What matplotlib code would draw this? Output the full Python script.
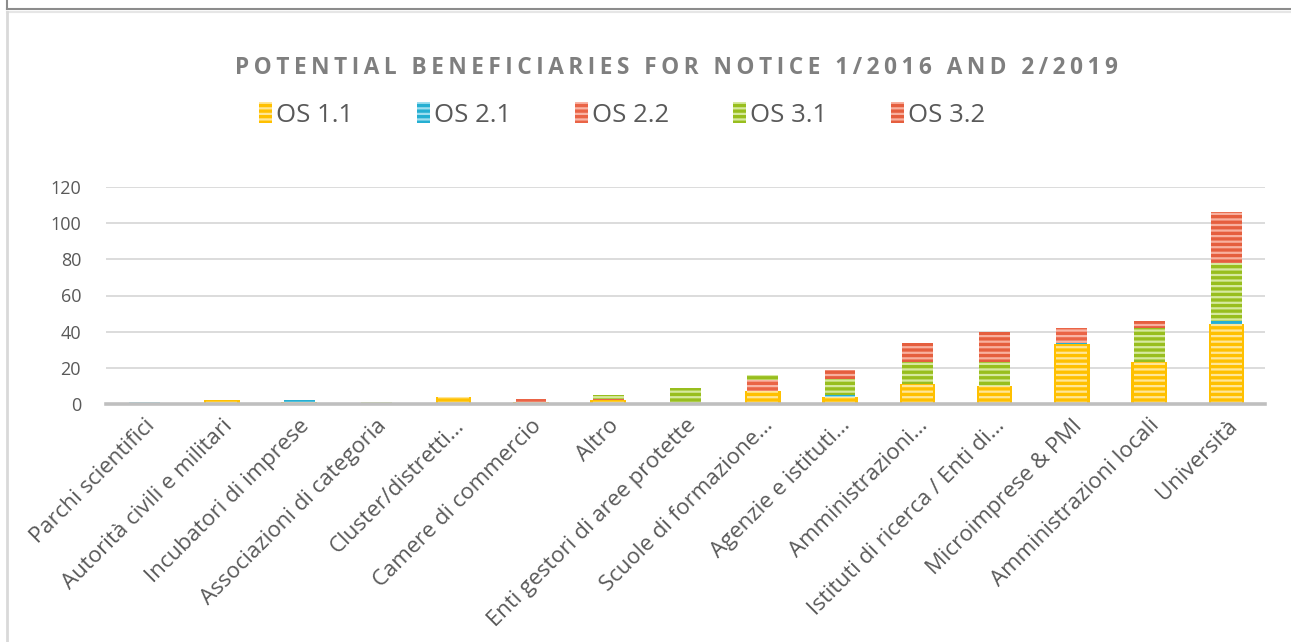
import matplotlib
matplotlib.use("Agg")
import matplotlib.pyplot as plt
from matplotlib.patches import Patch
from matplotlib.lines import Line2D
import numpy as np

plt.rcParams["font.family"] = ["Open Sans", "DejaVu Sans"]
plt.rcParams["hatch.linewidth"] = 1.6

categories = [
    "Parchi scientifici",
    "Autorità civili e militari",
    "Incubatori di imprese",
    "Associazioni di categoria",
    "Cluster/distretti…",
    "Camere di commercio",
    "Altro",
    "Enti gestori di aree protette",
    "Scuole di formazione…",
    "Agenzie e istituti…",
    "Amministrazioni…",
    "Istituti di ricerca / Enti di…",
    "Microimprese & PMI",
    "Amministrazioni locali",
    "Università",
]

os_11 = [0, 2, 1, 0, 4, 1, 2, 0, 7, 4, 11, 10, 33, 23, 44]
os_21 = [1, 0, 1, 0, 0, 0, 0, 0, 0, 1, 0, 0, 1, 0, 2]
os_22 = [0, 0, 0, 0, 0, 2, 1, 0, 6, 0, 0, 0, 8, 0, 0]
os_31 = [0, 0, 0, 1, 0, 0, 2, 9, 3, 9, 12, 13, 0, 19, 32]
os_32 = [0, 0, 0, 0, 0, 0, 0, 0, 0, 5, 11, 17, 0, 4, 28]

series_names = ["OS 1.1", "OS 2.1", "OS 2.2", "OS 3.1", "OS 3.2"]
series_values = [os_11, os_21, os_22, os_31, os_32]
fills = ["#FFC000", "#25AFD2", "#EA6446", "#98BE1E", "#E55E3E"]
stripes = [(1, 0.93, 0.7, 0.85), (0.75, 0.92, 0.97, 0.8), (1, 0.82, 0.78, 0.75),
           (0.9, 0.96, 0.75, 0.8), (1, 0.8, 0.75, 0.75)]

fig = plt.figure(figsize=(12.91, 6.42), dpi=100)
ax = fig.add_axes([106 / 1291, 1 - 404 / 642, (1265 - 106) / 1291, (404 - 187) / 642])

x = np.arange(len(categories))
bottom = np.zeros(len(categories))
width = 0.40
for i, (name, vals) in enumerate(zip(series_names, series_values)):
    vals = np.array(vals, dtype=float)
    if i == 0:
        # soft yellow rim around the first series
        ax.bar(x, vals, width + 0.06, bottom=bottom, color=fills[i], linewidth=0, zorder=2)
    ax.bar(x, vals, width, bottom=bottom, color=fills[i], edgecolor=stripes[i],
           linewidth=0, hatch="---", zorder=3)
    bottom += vals

ax.set_ylim(0, 120)
ax.set_xlim(-0.5, len(categories) - 0.5)
ax.set_yticks(range(0, 121, 20))
ax.yaxis.grid(True, color="#D9D9D9", linewidth=1.3, zorder=0)
ax.set_axisbelow(True)
for s in ["top", "right", "left"]:
    ax.spines[s].set_visible(False)
ax.spines["bottom"].set_color("#BFBFBF")
ax.spines["bottom"].set_linewidth(2.6)
ax.spines["bottom"].set_zorder(5)
ax.tick_params(axis="both", length=0, colors="#595959")
ax.tick_params(axis="y", labelsize=13, pad=18)
ax.tick_params(axis="x", labelsize=16, pad=8)
ax.set_xticks(x)
ax.set_xticklabels(categories, rotation=45, ha="right", rotation_mode="anchor")

title = "\u2009".join("POTENTIAL BENEFICIARIES FOR NOTICE 1/2016 AND 2/2019")
fig.text(676 / 1291, 1 - 68 / 642, title, ha="center", va="center", fontsize=16.3,
         fontweight="bold", color="#7F7F7F", family=["Open Sans", "DejaVu Sans"])

handles = [Patch(facecolor=f, edgecolor=s, linewidth=0, hatch="---", label=n)
           for n, f, s in zip(series_names, fills, stripes)]
fig.legend(handles=handles, loc="center", bbox_to_anchor=(0.482, 1 - 115 / 642), ncol=5,
           frameon=False, fontsize=18.5, handlelength=0.5, handleheight=0.85,
           handletextpad=0.15, columnspacing=2.5, labelcolor="#595959")

# chart frame remnants
fig.add_artist(Line2D([7 / 1291, 1], [1 - 9 / 642] * 2, color="#8C8C8C", lw=1.5, transform=fig.transFigure))
fig.add_artist(Line2D([7 / 1291] * 2, [1 - 9 / 642, 1], color="#8C8C8C", lw=1.5, transform=fig.transFigure))
fig.add_artist(Line2D([7 / 1291, 1], [1 - 12 / 642] * 2, color="#E6E6E6", lw=1.5, transform=fig.transFigure))
fig.add_artist(Line2D([7 / 1291] * 2, [0, 1 - 12 / 642], color="#D9D9D9", lw=2, transform=fig.transFigure))

fig.savefig("out.png", dpi=100)
